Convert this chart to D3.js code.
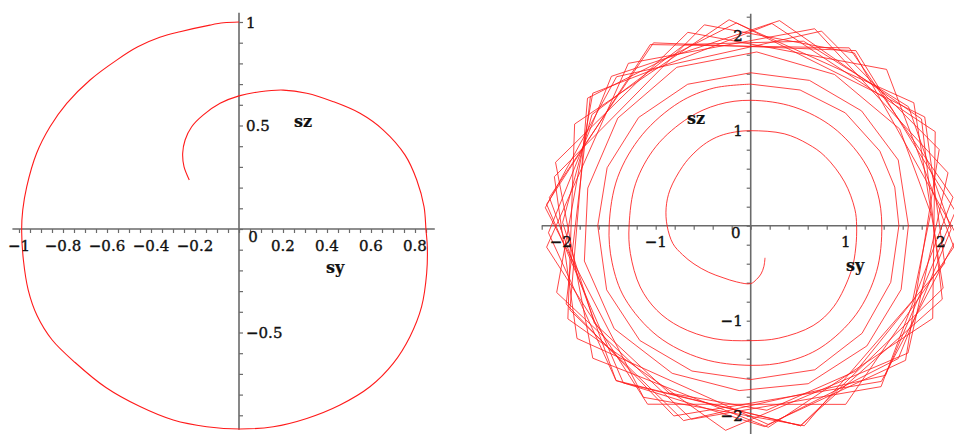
<!DOCTYPE html>
<html><head><meta charset="utf-8">
<script src="https://cdn.jsdelivr.net/npm/d3@7"></script>
<style>
body{margin:0;background:#fff}
svg text{font-family:"DejaVu Serif",serif;font-size:15px;fill:#111;stroke:#111;stroke-width:0.35px}
svg text.title{font-size:16px;font-weight:bold;stroke-width:0.2px}
</style></head><body>
<svg id="c" width="954" height="434"></svg>
<script>
// ---------- data: left panel (sy, sz) ----------
const leftSy = [0,-0.07,-0.132,-0.268,-0.36,-0.46,-0.556,-0.677,-0.783,-0.859,-0.92,-0.965,-0.983,-0.988,-0.98,-0.958,-0.918,-0.85,-0.745,-0.605,-0.45,-0.299,-0.147,0.005,0.156,0.308,0.459,0.595,0.701,0.777,0.83,0.853,0.856,0.85,0.841,0.808,0.755,0.656,0.55,0.429,0.308,0.201,0.095,0,-0.086,-0.162,-0.215,-0.245,-0.256,-0.25,-0.226];
const leftSz = [1,0.996,0.985,0.953,0.926,0.88,0.816,0.72,0.607,0.494,0.366,0.204,0.092,-0.005,-0.15,-0.295,-0.418,-0.535,-0.645,-0.766,-0.858,-0.923,-0.955,-0.966,-0.955,-0.915,-0.85,-0.762,-0.649,-0.52,-0.375,-0.214,-0.085,-0.005,0.108,0.237,0.357,0.478,0.559,0.615,0.656,0.671,0.663,0.643,0.607,0.551,0.494,0.43,0.366,0.301,0.237];

// ---------- data: right panel, polar reading (angle deg clockwise from +sz, radius) ----------
const rightAngle = [156,162,168,174,180,194,208,222,236,247,257,270,282,294,311,322,332,341,350,360,380,395,407,425,441,450,462,474,494,508,526,540,558,575,588,601,617,630,650,670,690,705,720,740,760,780,795,810,830,850,870,885,900,920,940,960,975,990,1010,1030,1050,1065,1080,1100,1120,1140,1155,1170,1192,1214,1236,1260,1282,1304,1326,1350,1372,1394,1416,1440,1462,1484,1506,1530,1553,1576,1600,1624,1648,1673,1698,1723,1749,1775,1802,1829,1857,1886,1915,1944,1975,2006,2038,2071,2105,2140,2176,2213,2251,2292,2336,2381,2428,2477,2528,2578,2631,2686,2739,2796,2851,2909,2962,3021,3077,3131,3190,3246,3303,3357,3415,3470,3528,3582,3641,3696,3752,3810,3864,3923,3978,4035,4089,4147,4203,4260,4314,4373,4428,4486,4541,4598,4652,4711,4766,4818,4879,4925,4988,5036,5098,5141,5205,5252,5315,5358,5420,5468,5531,5575,5637,5684,5747,5791,5853,5900,5962,6007,6069];
const rightRadius = [0.37,0.45,0.52,0.57,0.61,0.61,0.62,0.66,0.72,0.78,0.84,0.88,0.91,0.93,0.95,0.97,0.99,1.0,1.0,1.0,1.03,1.05,1.07,1.09,1.11,1.115,1.13,1.16,1.22,1.24,1.22,1.21,1.25,1.30,1.33,1.33,1.30,1.28,1.29,1.30,1.31,1.32,1.32,1.33,1.35,1.37,1.38,1.38,1.41,1.45,1.48,1.48,1.47,1.49,1.52,1.53,1.51,1.49,1.49,1.49,1.50,1.50,1.49,1.52,1.55,1.57,1.57,1.56,1.59,1.63,1.66,1.62,1.65,1.68,1.66,1.61,1.63,1.64,1.63,1.61,1.65,1.68,1.70,1.66,1.72,1.76,1.77,1.74,1.76,1.80,1.79,1.76,1.80,1.84,1.83,1.82,1.87,1.90,1.88,1.89,1.95,1.96,1.94,1.98,2.04,2.03,2.02,2.08,2.11,2.09,2.12,2.16,2.13,2.15,2.18,2.12,2.16,2.17,2.13,2.16,2.18,2.14,2.15,2.18,2.13,2.16,2.17,2.14,2.18,2.15,2.13,2.17,2.16,2.14,2.18,2.15,2.13,2.17,2.16,2.14,2.18,2.15,2.13,2.17,2.16,2.14,2.18,2.15,2.13,2.17,2.16,2.14,2.18,2.15,2.16,2.12,2.17,2.10,2.18,2.14,2.16,2.08,2.18,2.13,2.17,2.11,2.18,2.14,2.16,2.10,2.18,2.13,2.17,2.12,2.18,2.14,2.16,2.11,2.17];
const smoothUntilAngle = 1080; // inner turns drawn smooth, outer ones as polygon

// ---------- tick labels ----------
const leftXLabels = [-1,-0.8,-0.6,-0.4,-0.2,0.2,0.4,0.6,0.8];
const leftYLabels = [1,0.5,-0.5];
const rightXLabels = [-2,-1,1,2];
const rightYLabels = [2,1,-1,-2];
const leftXExtent = [-1.03,0.89], leftYExtent = [-0.97,1.045];
const rightXExtent = [-2.2,2.13], rightYExtent = [-2.2,2.23];

const svg = d3.select("#c");
const fmt = d => (d < 0 ? "\u2212" : "") + Math.abs(d);
const axisCol = "#6a6a6a";

function drawAxes(x, y, xExt, yExt, xTicks, yTicks, yTickSide) {
  const g = svg.append("g");
  g.append("line").attr("x1", x(xExt[0])).attr("x2", x(xExt[1]))
    .attr("y1", y(0)).attr("y2", y(0)).attr("stroke", axisCol).attr("stroke-width", 1.6);
  g.append("line").attr("x1", x(0)).attr("x2", x(0))
    .attr("y1", y(yExt[0])).attr("y2", y(yExt[1])).attr("stroke", axisCol).attr("stroke-width", 1.6);
  const ax = g.append("g").attr("transform", `translate(0,${y(0)})`)
    .call(d3.axisBottom(x).tickValues(xTicks).tickSize(4).tickFormat(""));
  const ayGen = yTickSide === "right" ? d3.axisRight(y) : d3.axisLeft(y);
  const ay = g.append("g").attr("transform", `translate(${x(0)},0)`)
    .call(ayGen.tickValues(yTicks).tickSize(4).tickFormat(""));
  [ax, ay].forEach(a => {
    a.select(".domain").remove();
    a.selectAll("line").attr("stroke", axisCol).attr("stroke-width", 1.2);
  });
}

// ---------- left panel ----------
const xL = d3.scaleLinear().domain([-1, 0.8]).range([19, 415]);
const yL = d3.scaleLinear().domain([-0.5, 1]).range([332.5, 22]);
drawAxes(xL, yL, leftXExtent, leftYExtent,
  d3.range(-20, 18).map(i => +(i * 0.05).toFixed(2)),
  d3.range(-9, 11).map(i => +(i * 0.1).toFixed(1)), "right");

svg.append("path")
  .attr("d", d3.line().x((d, i) => xL(leftSy[i])).y((d, i) => yL(leftSz[i])).curve(d3.curveCatmullRom)(leftSy))
  .attr("fill", "none").attr("stroke", "#ff1a1a").attr("stroke-width", 1.1);

svg.append("g").selectAll("text").data(leftXLabels).join("text")
  .attr("x", d => xL(d)).attr("y", yL(0) + 22).attr("text-anchor", "middle").text(fmt);
svg.append("g").selectAll("text").data(leftYLabels).join("text")
  .attr("x", xL(0) + 7).attr("y", d => yL(d) + 5.5).text(fmt);
svg.append("text").attr("x", xL(0) + 14).attr("y", yL(0) + 13).attr("text-anchor", "middle").text("0");
svg.append("text").attr("class", "title").attr("x", 294).attr("y", 127).text("sz");
svg.append("text").attr("class", "title").attr("x", 326).attr("y", 273).text("sy");

// ---------- right panel ----------
const xR = d3.scaleLinear().domain([-2, 2]).range([560.7, 940.7]);
const yR = d3.scaleLinear().domain([-2, 2]).range([415.7, 35.7]);
const rR = d3.scaleLinear().domain([0, 1]).range([0, 95]);
const toRad = d3.scaleLinear().domain([0, 180]).range([0, Math.PI]);

drawAxes(xR, yR, rightXExtent, rightYExtent,
  d3.range(-11, 11).map(i => +(i * 0.2).toFixed(1)),
  d3.range(-11, 12).map(i => +(i * 0.2).toFixed(1)), "left");

const pts = rightAngle.map((a, i) => ({a, r: rightRadius[i]}));
const inner = pts.filter(p => p.a <= smoothUntilAngle);
const outer = pts.filter(p => p.a >= smoothUntilAngle);
const radial = d3.lineRadial().angle(p => toRad(p.a)).radius(p => rR(p.r));
const gR = svg.append("g").attr("transform", `translate(${xR(0)},${yR(0)})`);
gR.append("path").attr("d", radial.curve(d3.curveCatmullRom)(inner))
  .attr("fill", "none").attr("stroke", "#ff1a1a").attr("stroke-width", 1).attr("stroke-opacity", 0.85);
gR.append("path").attr("d", radial.curve(d3.curveLinear)(outer))
  .attr("fill", "none").attr("stroke", "#ff1a1a").attr("stroke-width", 1).attr("stroke-opacity", 0.8);

svg.append("g").selectAll("text").data(rightXLabels).join("text")
  .attr("x", d => xR(d)).attr("y", yR(0) + 21).attr("text-anchor", "middle").text(fmt);
svg.append("g").selectAll("text").data(rightYLabels).join("text")
  .attr("x", xR(0) - 8).attr("y", d => yR(d) + 5.5).attr("text-anchor", "end").text(fmt);
svg.append("text").attr("x", xR(0) - 15).attr("y", yR(0) + 12.5).attr("text-anchor", "middle").text("0");
svg.append("text").attr("class", "title").attr("x", 687).attr("y", 124).text("sz");
svg.append("text").attr("class", "title").attr("x", 846).attr("y", 271).text("sy");
</script>
</body></html>
